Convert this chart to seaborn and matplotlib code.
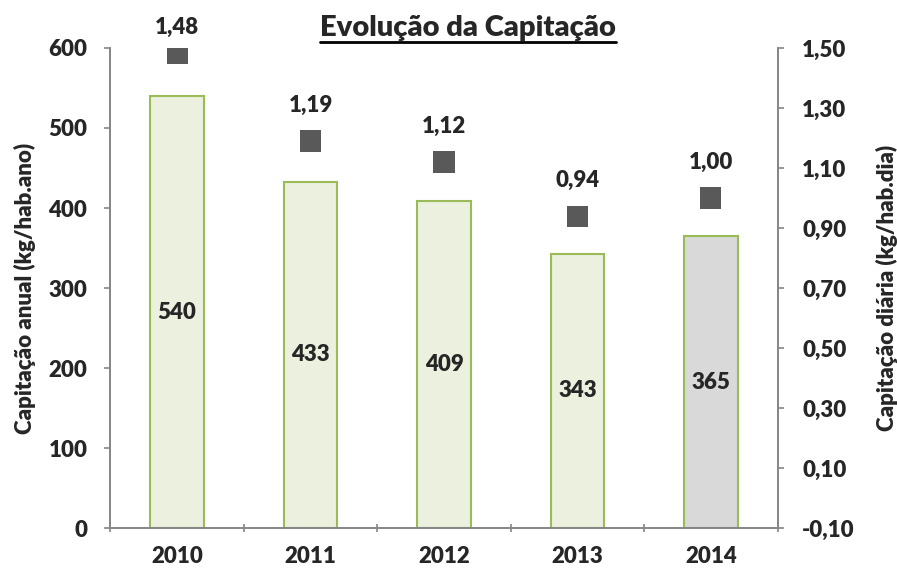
import numpy as np
import pandas as pd
import seaborn as sns
import matplotlib.pyplot as plt
from matplotlib.lines import Line2D

# dados
anos = ["2010", "2011", "2012", "2013", "2014"]
anual = [540, 433, 409, 343, 365]
diaria = [1.48, 1.19, 1.12, 0.94, 1.00]
diaria_txt = ["1,48", "1,19", "1,12", "0,94", "1,00"]

sns.set_theme(style="white")
plt.rcParams['font.family'] = ['Lato', 'DejaVu Sans']
W = "heavy"
FS = 16

df = pd.DataFrame({"ano": anos, "anual": anual, "diaria": diaria})

fig, ax = plt.subplots(figsize=(8.97, 5.71), dpi=100)
fig.subplots_adjust(left=0.123, right=0.867, top=0.916, bottom=0.075)

cores = ["#EBF1DE"] * 4 + ["#D9D9D9"]
sns.barplot(data=df, x="ano", y="anual", hue="ano", palette=cores, legend=False,
            width=0.4, edgecolor="#9BBB59", linewidth=1.5, ax=ax, saturation=1)

for i, v in enumerate(anual):
    ax.text(i, v / 2, str(v), ha="center", va="center", fontsize=FS, fontweight=W)

ax.set_ylim(0, 600)
ax.set_xlim(-0.5, 4.5)
ax.set_yticks(range(0, 601, 100))
ax.set_xlabel("")
ax.set_ylabel("Capitação anual (kg/hab.ano)", fontsize=16, fontweight=W, labelpad=9)

ax2 = ax.twinx()
sns.scatterplot(data=df, x="ano", y="diaria", marker="s", s=230, color="#595959",
                edgecolor="none", ax=ax2, zorder=5)
# rotulo acima do marcador (o do topo fica encostado ao limite do grafico)
for i, v in enumerate(diaria):
    ax2.text(i, min(v + 0.118, 1.57), diaria_txt[i], ha="center", va="center",
             fontsize=FS, fontweight=W, clip_on=False)
ax2.set_ylim(-0.10, 1.50)
ax2.set_yticks(np.arange(-0.10, 1.51, 0.20))
ax2.set_yticklabels([f"{t:.2f}".replace(".", ",") for t in np.arange(-0.10, 1.51, 0.20)])
ax2.set_xlim(-0.5, 4.5)
ax2.set_ylabel("Capitação diária (kg/hab.dia)", fontsize=16, fontweight=W, labelpad=15)

for a in (ax, ax2):
    a.spines["top"].set_visible(False)
    for s in ("left", "right", "bottom"):
        a.spines[s].set_color("#868686")
        a.spines[s].set_linewidth(1.2)
    for lab in a.get_yticklabels() + a.get_xticklabels():
        lab.set_fontweight(W)
        lab.set_fontsize(FS)

ax.tick_params(axis="y", left=True, length=4.5, color="#868686", width=1.2, pad=12)
ax2.tick_params(axis="y", right=True, length=4.5, color="#868686", width=1.2, pad=13)
ax.set_xticks(np.arange(-0.5, 4.6, 1), minor=True)
ax.tick_params(axis="x", which="major", length=0, pad=13)
ax.tick_params(axis="x", which="minor", bottom=True, length=6, direction="inout",
               color="#868686", width=1.2)

t = fig.text(0.522, 0.951, "Evolução da Capitação", ha="center", va="center",
             fontsize=21, fontweight=W)
fig.canvas.draw()
bb = t.get_window_extent().transformed(fig.transFigure.inverted())
fig.add_artist(Line2D([bb.x0, bb.x1], [bb.y0 - 0.002, bb.y0 - 0.002], color="black",
                      linewidth=2, transform=fig.transFigure))

fig.savefig("out.png", dpi=100)
